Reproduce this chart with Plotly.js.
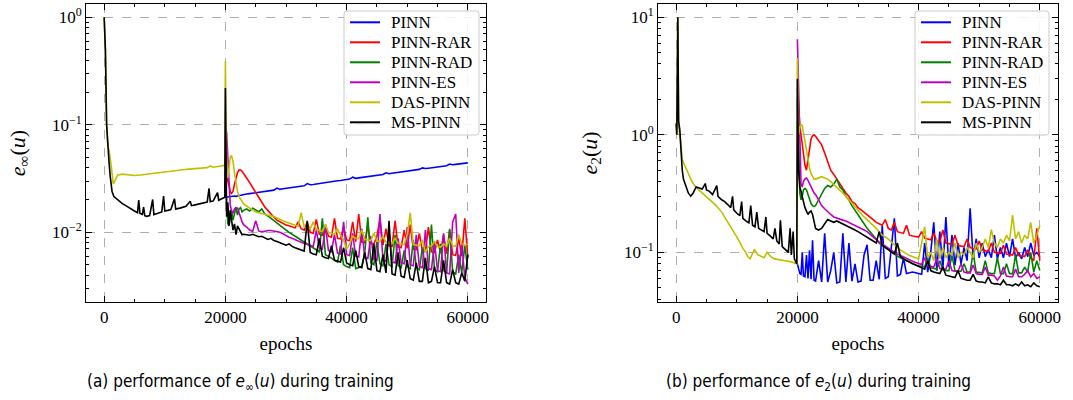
<!DOCTYPE html>
<html>
<head>
<meta charset="utf-8">
<script src="https://cdn.plot.ly/plotly-3.0.1.min.js"></script>
<style>html,body{margin:0;padding:0;background:#fff;}#chart{width:1073px;height:400px;}</style>
</head>
<body>
<div id="chart"></div>
<script>
// ---------------- data ----------------
const seriesNames = ["PINN", "PINN-RAR", "PINN-RAD", "PINN-ES", "DAS-PINN", "MS-PINN"];
const xTickVals = [0, 20000, 40000, 60000];
const yTickValsA = [1, 0.1, 0.01];
const yTickTextA = ["10<sup>0</sup>", "10<sup>−1</sup>", "10<sup>−2</sup>"];
const yTickValsB = [10, 1, 0.1];
const yTickTextB = ["10<sup>1</sup>", "10<sup>0</sup>", "10<sup>−1</sup>"];

// epochs after the re-sampling at 20000
const xPost = [20000,20200,20400,20600,20800,21000,21250,21500,21750,22000,22250,22500,22750,23000,
  23500,24000,24500,25000,25500,26000,26500,27000,27500,28000,
  28500,29000,29500,30000,30500,31000,31500,32000,32500,33000,
  33500,34000,34500,35000,35500,36000,36500,37000,37500,38000,
  38500,39000,39500,40000,40500,41000,41500,42000,42500,43000,
  43500,44000,44500,45000,45500,46000,46500,47000,47500,48000,
  48500,49000,49500,50000,50500,51000,51500,52000,52500,53000,
  53500,54000,54500,55000,55500,56000,56500,57000,57500,58000,
  58500,59000,59500,60000];

// ---- (a) e_inf(u) ----
const xPreA_MS = [0,200,400,600,800,1000,1300,1600,2000,2500,3000,3500,4000,4500,5000,5500,5700,5900,6300,6500,6700,7000,7500,8000,8200,8500,9000,9500,9800,10000,10500,11000,11600,11800,12500,13000,13500,14200,14400,15000,15500,16000,16500,17000,17300,17500,18000,18700,18900,19500,19900];
const yPreA_MS = [1.0,0.5,0.1,0.06,0.045,0.033,0.024,0.0215,0.0205,0.0195,0.0185,0.0178,0.017,0.0163,0.0158,0.0152,0.0200,0.015,0.0147,0.0172,0.0143,0.0141,0.0143,0.0202,0.0146,0.0148,0.0152,0.0155,0.0217,0.0158,0.016,0.0163,0.0205,0.0165,0.0168,0.0172,0.0175,0.0195,0.0177,0.018,0.0183,0.0186,0.0189,0.0191,0.0256,0.0193,0.0196,0.0234,0.0199,0.0206,0.0212];
const xPreA_DAS = [0,200,400,600,800,1000,1200,1500,1800,2200,3000,4000,5000,6000,7000,8000,9000,10000,11000,12000,13000,14000,15000,16000,17000,17500,18000,19000,19900];
const yPreA_DAS = [1.0,0.5,0.1,0.065,0.058,0.05,0.04,0.028,0.031,0.034,0.0348,0.0342,0.0338,0.0342,0.0348,0.0352,0.0357,0.0367,0.0368,0.0375,0.0382,0.0387,0.0393,0.0398,0.040,0.0415,0.0403,0.0412,0.042];

const a_PINN = [0.0212,0.0213,0.0213,0.0215,0.0214,0.0216,0.0217,0.0218,0.0216,0.0219,0.0220,0.0221,0.0223,0.0222,
  0.0227,0.0229,0.0231,0.0236,0.0235,0.0238,0.0240,0.0242,0.0244,0.0247,
  0.0258,0.0251,0.0254,0.0256,0.0259,0.0261,0.0264,0.0266,0.0269,0.0271,
  0.0284,0.0277,0.0279,0.0282,0.0285,0.0287,0.0290,0.0296,0.0296,0.0299,
  0.0302,0.0304,0.0307,0.0310,0.0313,0.0326,0.0318,0.0321,0.0324,0.0327,
  0.0330,0.0333,0.0336,0.0339,0.0342,0.0345,0.0358,0.0351,0.0355,0.0358,
  0.0361,0.0364,0.0368,0.0371,0.0374,0.0378,0.0381,0.0385,0.0398,0.0392,
  0.0395,0.0399,0.0403,0.0406,0.0410,0.0414,0.0417,0.0432,0.0425,0.0429,
  0.0433,0.0437,0.0440,0.0443];
const a_RAR = [0.05,0.035,0.030,0.027,0.024,0.023,0.024,0.028,0.033,0.036,0.038,0.038,0.037,0.035,
  0.032,0.029,0.026,0.0235,0.021,0.019,0.0172,0.016,0.0148,0.0138,
  0.013,0.0125,0.012,0.0117,0.0115,0.0112,0.011,0.0125,0.0108,0.0105,
  0.0125,0.010,0.0098,0.0132,0.0096,0.0094,0.0118,0.0092,0.009,0.0135,
  0.0088,0.0087,0.0112,0.0085,0.0084,0.0125,0.0082,0.0148,0.0081,0.008,
  0.0115,0.0079,0.0078,0.0092,0.0132,0.0076,0.0108,0.0075,0.0074,0.0128,
  0.0073,0.0072,0.0105,0.0071,0.0118,0.007,0.0069,0.0098,0.0068,0.0067,
  0.0112,0.0066,0.0065,0.0085,0.0064,0.0095,0.0063,0.0105,0.0062,0.0061,
  0.0088,0.006,0.0135,0.0058];
const a_RAD = [0.03,0.016,0.012,0.0115,0.014,0.016,0.013,0.015,0.017,0.0145,0.0165,0.017,0.0155,0.016,
  0.0165,0.0158,0.0168,0.0162,0.0155,0.0165,0.0148,0.0142,0.0135,0.0128,
  0.0122,0.0115,0.011,0.0105,0.0100,0.0096,0.0092,0.0088,0.0085,0.0082,
  0.0078,0.0075,0.0072,0.0068,0.0066,0.0135,0.0062,0.006,0.0057,0.0055,
  0.0053,0.0075,0.005,0.0048,0.0047,0.0072,0.0046,0.0047,0.0048,0.0065,
  0.0138,0.0052,0.005,0.0082,0.0051,0.0049,0.0078,0.005,0.0048,0.0095,
  0.0049,0.0047,0.0068,0.0048,0.0046,0.0085,0.0047,0.0045,0.0072,0.0046,
  0.0044,0.0118,0.0045,0.0043,0.0078,0.0044,0.0042,0.0108,0.0043,0.0041,
  0.0062,0.0042,0.0075,0.0045];
const a_ES = [0.09,0.085,0.05,0.025,0.018,0.016,0.015,0.0165,0.017,0.0168,0.0155,0.0138,0.0125,0.0118,
  0.0112,0.0105,0.0102,0.0128,0.0103,0.0101,0.0102,0.0104,0.0104,0.0103,
  0.0102,0.0100,0.0097,0.0093,0.009,0.0088,0.0085,0.0083,0.0081,0.0079,
  0.0077,0.0076,0.0074,0.0105,0.0072,0.007,0.0115,0.0068,0.0066,0.0095,
  0.0064,0.0063,0.0125,0.0062,0.0061,0.0098,0.006,0.0059,0.0108,0.0058,
  0.0057,0.0092,0.0056,0.0055,0.0148,0.0055,0.0054,0.0102,0.0053,0.0052,
  0.0088,0.0052,0.0051,0.0112,0.005,0.0049,0.0095,0.0048,0.0047,0.0105,
  0.0046,0.0045,0.0082,0.0044,0.0043,0.0098,0.0042,0.0041,0.0125,0.0148,
  0.0042,0.0078,0.0038,0.0033];
const a_DAS = [0.39,0.04,0.032,0.042,0.05,0.052,0.046,0.036,0.028,0.024,0.0215,0.0205,0.0195,0.0185,
  0.0175,0.0168,0.016,0.0155,0.0152,0.015,0.0148,0.0146,0.0143,0.014,
  0.0136,0.0133,0.0128,0.0125,0.0122,0.0118,0.0116,0.0114,0.0152,0.0112,
  0.011,0.0108,0.0125,0.0106,0.0104,0.0102,0.0118,0.01,0.0098,0.0096,
  0.0108,0.0094,0.0085,0.007,0.0078,0.0092,0.0088,0.0087,0.0105,0.0086,
  0.0085,0.0084,0.0098,0.0083,0.0082,0.0092,0.0081,0.008,0.0079,0.0088,
  0.0079,0.0078,0.0077,0.0095,0.0152,0.0077,0.0076,0.0075,0.0085,0.0065,
  0.0074,0.0075,0.0082,0.0074,0.0073,0.0078,0.0074,0.0088,0.0075,0.0074,
  0.0095,0.0078,0.0076,0.0078];
const a_MS = [0.22,0.014,0.019,0.0115,0.016,0.013,0.0105,0.012,0.0095,0.0115,0.0108,0.0098,0.0095,0.0096,
  0.0095,0.0094,0.0096,0.0093,0.0091,0.0092,0.0089,0.0086,0.0088,0.0084,
  0.0082,0.008,0.0079,0.0076,0.0078,0.0074,0.0072,0.007,0.0069,0.0067,
  0.0128,0.0065,0.0063,0.0062,0.0088,0.006,0.0058,0.0057,0.0075,0.0055,
  0.0054,0.0053,0.0072,0.0052,0.005,0.0049,0.0068,0.0048,0.0047,0.0065,
  0.0046,0.0045,0.0078,0.0044,0.0043,0.0062,0.0042,0.0128,0.0041,0.004,
  0.0065,0.0039,0.0038,0.0055,0.0037,0.0036,0.0052,0.0035,0.0035,0.0058,
  0.0034,0.0035,0.0048,0.0034,0.0034,0.0055,0.0034,0.0033,0.0045,0.0034,
  0.0033,0.0042,0.0035,0.0062];

// ---- (b) e_2(u) ----
const xPreB_MS = [0,100,270,400,600,800,1000,1200,1600,2000,2400,2800,3300,3800,4300,4800,5000,5500,6000,6700,6900,7500,8000,8500,9000,9300,9500,10000,10500,10800,11000,11500,12000,12300,12600,13000,13300,13600,14000,14500,14800,15000,15500,16000,16300,16600,17000,17200,17500,18000,18500,18800,19000,19300,19500,19900];
const yPreB_MS = [1.25,1.0,10,1.3,1.1,0.7,0.5,0.42,0.36,0.32,0.30,0.32,0.36,0.35,0.345,0.385,0.34,0.33,0.31,0.37,0.30,0.28,0.27,0.255,0.24,0.30,0.23,0.215,0.205,0.27,0.195,0.185,0.178,0.25,0.17,0.165,0.22,0.16,0.155,0.15,0.20,0.145,0.138,0.13,0.16,0.125,0.118,0.187,0.112,0.105,0.10,0.16,0.095,0.15,0.088,0.08];
const xPreB_DAS = [0,100,270,400,700,1000,1400,2000,2600,3200,4000,4900,5800,6600,7500,8300,9100,9900,10500,11000,11500,11800,12200,12900,13500,14000,14500,15000,15600,16200,17000,18000,19000,19900];
const yPreB_DAS = [1.25,1.0,10,1.2,0.9,0.62,0.55,0.47,0.40,0.36,0.33,0.30,0.27,0.25,0.22,0.19,0.16,0.138,0.122,0.108,0.10,0.092,0.088,0.106,0.095,0.092,0.09,0.10,0.092,0.088,0.087,0.085,0.083,0.08];

const b_PINN = [0.08,0.07,0.066,0.065,0.10,0.063,0.062,0.095,0.06,0.104,0.059,0.127,0.058,0.057,
  0.085,0.056,0.145,0.056,0.07,0.10,0.055,0.056,0.145,0.056,
  0.12,0.057,0.08,0.056,0.057,0.095,0.116,0.058,0.058,0.085,
  0.059,0.17,0.06,0.062,0.11,0.195,0.063,0.065,0.09,0.066,
  0.067,0.068,0.067,0.066,0.065,0.12,0.068,0.10,0.18,0.07,
  0.15,0.072,0.20,0.075,0.14,0.078,0.12,0.08,0.11,0.085,
  0.237,0.088,0.13,0.09,0.12,0.092,0.105,0.09,0.14,0.088,
  0.11,0.09,0.12,0.092,0.13,0.09,0.10,0.088,0.11,0.092,
  0.12,0.095,0.10,0.092];
const b_RAR = [2.5,1.5,1.2,1.0,0.85,0.7,0.55,0.5,0.62,0.8,0.92,0.98,1.0,0.97,
  0.9,0.82,0.7,0.58,0.5,0.46,0.42,0.38,0.35,0.32,
  0.3,0.27,0.26,0.24,0.23,0.22,0.21,0.2,0.19,0.18,
  0.175,0.17,0.19,0.16,0.155,0.18,0.15,0.148,0.145,0.17,
  0.14,0.138,0.137,0.135,0.15,0.132,0.13,0.128,0.145,0.125,
  0.123,0.155,0.12,0.118,0.117,0.14,0.115,0.113,0.112,0.13,
  0.11,0.108,0.107,0.125,0.105,0.103,0.102,0.12,0.10,0.099,
  0.098,0.115,0.097,0.096,0.095,0.11,0.094,0.093,0.092,0.105,
  0.09,0.085,0.16,0.085];
const b_RAD = [2.0,0.6,0.32,0.28,0.30,0.34,0.35,0.34,0.31,0.28,0.26,0.25,0.245,0.25,
  0.28,0.32,0.35,0.37,0.36,0.38,0.42,0.36,0.34,0.30,
  0.28,0.25,0.23,0.21,0.19,0.175,0.16,0.15,0.14,0.13,
  0.12,0.115,0.11,0.105,0.10,0.097,0.093,0.09,0.087,0.085,
  0.083,0.08,0.078,0.077,0.076,0.075,0.09,0.074,0.073,0.072,
  0.085,0.071,0.07,0.07,0.095,0.07,0.069,0.069,0.08,0.068,
  0.068,0.10,0.068,0.067,0.067,0.085,0.067,0.066,0.066,0.09,
  0.066,0.066,0.08,0.066,0.066,0.095,0.067,0.067,0.075,0.068,
  0.10,0.068,0.085,0.07];
const b_ES = [6.5,2.4,0.6,0.38,0.36,0.40,0.42,0.43,0.41,0.38,0.36,0.34,0.32,0.31,
  0.28,0.25,0.235,0.22,0.21,0.20,0.195,0.19,0.188,0.185,
  0.18,0.175,0.17,0.165,0.16,0.155,0.15,0.142,0.135,0.128,
  0.122,0.118,0.113,0.108,0.104,0.10,0.097,0.094,0.091,0.088,
  0.086,0.084,0.082,0.08,0.079,0.09,0.077,0.076,0.075,0.088,
  0.073,0.072,0.072,0.085,0.07,0.069,0.069,0.08,0.068,0.067,
  0.067,0.078,0.066,0.065,0.065,0.075,0.064,0.064,0.063,0.058,
  0.063,0.075,0.063,0.062,0.062,0.072,0.062,0.062,0.065,0.07,
  0.062,0.066,0.06,0.062];
const b_DAS = [4.5,1.0,1.15,1.22,1.2,1.05,0.85,0.7,0.6,0.52,0.47,0.44,0.42,0.42,
  0.43,0.44,0.43,0.42,0.40,0.38,0.36,0.34,0.32,0.30,
  0.28,0.26,0.245,0.23,0.215,0.20,0.19,0.18,0.17,0.16,
  0.15,0.14,0.135,0.13,0.122,0.115,0.11,0.105,0.10,0.097,
  0.094,0.092,0.09,0.088,0.12,0.165,0.09,0.10,0.085,0.13,
  0.088,0.11,0.09,0.10,0.095,0.12,0.09,0.10,0.095,0.11,
  0.10,0.09,0.12,0.10,0.11,0.13,0.11,0.156,0.12,0.11,
  0.13,0.12,0.14,0.125,0.207,0.13,0.15,0.12,0.14,0.13,
  0.18,0.12,0.14,0.17];
const b_MS = [3.0,0.5,0.36,0.33,0.29,0.27,0.24,0.22,0.21,0.22,0.225,0.21,0.18,0.16,
  0.155,0.16,0.175,0.19,0.185,0.18,0.185,0.18,0.175,0.17,
  0.165,0.16,0.155,0.15,0.145,0.14,0.135,0.13,0.125,0.12,
  0.15,0.115,0.11,0.105,0.10,0.097,0.12,0.092,0.088,0.085,
  0.082,0.08,0.078,0.076,0.074,0.072,0.085,0.07,0.068,0.067,
  0.066,0.075,0.064,0.063,0.062,0.061,0.07,0.06,0.059,0.058,
  0.058,0.065,0.057,0.056,0.056,0.055,0.062,0.055,0.054,0.054,
  0.053,0.058,0.053,0.053,0.052,0.054,0.052,0.056,0.052,0.053,
  0.051,0.055,0.052,0.051];

// ---------------- drawing ----------------
const W = 1073, H = 400;
const colors = ["#0000ff", "#ff0000", "#008000", "#bf00bf", "#bfbf00", "#000000"];
const serif = "Liberation Serif, DejaVu Serif, serif";
const postA = [a_PINN, a_RAR, a_RAD, a_ES, a_DAS, a_MS];
const postB = [b_PINN, b_RAR, b_RAD, b_ES, b_DAS, b_MS];

const traces = [];
function addPanel(post, preDASx, preDASy, preMSx, preMSy, xa, ya) {
  for (let i = 0; i < 6; i++) {
    let x = xPost, y = post[i];
    if (i === 4) { x = preDASx.concat(xPost); y = preDASy.concat(post[i]); }
    if (i === 5) { x = preMSx.concat(xPost); y = preMSy.concat(post[i]); }
    traces.push({
      type: "scatter", mode: "lines", x: x, y: y, name: seriesNames[i],
      xaxis: xa, yaxis: ya, showlegend: false,
      line: {color: colors[i], width: 1.6}, hoverinfo: "skip"
    });
  }
}
addPanel(postA, xPreA_DAS, yPreA_DAS, xPreA_MS, yPreA_MS, "x", "y");
addPanel(postB, xPreB_DAS, yPreB_DAS, xPreB_MS, yPreB_MS, "x2", "y2");

const logMinorA = [0.002,0.003,0.004,0.005,0.006,0.007,0.008,0.009,0.02,0.03,0.04,0.05,0.06,0.07,0.08,0.09,0.2,0.3,0.4,0.5,0.6,0.7,0.8,0.9,2];
const logMinorB = [0.04,0.05,0.06,0.07,0.08,0.09,0.2,0.3,0.4,0.5,0.6,0.7,0.8,0.9,2,3,4,5,6,7,8,9,20];

function xAxis(domain) {
  return {
    domain: domain, range: [-3000, 63000], tickvals: xTickVals, ticktext: xTickVals.map(String),
    ticks: "inside", ticklen: 6, tickwidth: 1, tickcolor: "#000",
    showline: true, linecolor: "#000", linewidth: 1, mirror: "allticks",
    showgrid: true, gridcolor: "#9a9a9a", griddash: "dash", gridwidth: 0.8,
    zeroline: false, automargin: false,
    tickfont: {family: serif, size: 17, color: "#000"},
    minor: {ticks: "inside", ticklen: 3, tickwidth: 1, tickcolor: "#000", dtick: 5000, tick0: 0, showgrid: false},
    title: {text: "epochs", font: {family: serif, size: 19, color: "#000"}, standoff: 10}
  };
}
function yAxis(range, vals, text, minorVals, title, anchor) {
  return {
    type: "log", domain: [0.245, 0.99], range: range, anchor: anchor,
    tickvals: vals, ticktext: text,
    ticks: "inside", ticklen: 6, tickwidth: 1, tickcolor: "#000",
    showline: true, linecolor: "#000", linewidth: 1, mirror: "allticks",
    showgrid: true, gridcolor: "#9a9a9a", griddash: "dash", gridwidth: 0.8,
    zeroline: false, automargin: false,
    tickfont: {family: serif, size: 17, color: "#000"},
    minor: {ticks: "inside", ticklen: 3, tickwidth: 1, tickcolor: "#000", tickmode: "array", tickvals: minorVals, showgrid: false},
    title: {text: title, font: {family: serif, size: 22, color: "#000"}, standoff: 20}
  };
}

// legend drawn with shapes + annotations (matplotlib-like compact box)
const shapes = [], annotations = [];
function px(x) { return x / W; }
function py(y) { return 1 - y / H; }
function roundedBox(x0, y0, x1, y1, r) {
  return "M" + px(x0 + r) + "," + py(y0) + " L" + px(x1 - r) + "," + py(y0) +
    " Q" + px(x1) + "," + py(y0) + " " + px(x1) + "," + py(y0 + r) +
    " L" + px(x1) + "," + py(y1 - r) + " Q" + px(x1) + "," + py(y1) + " " + px(x1 - r) + "," + py(y1) +
    " L" + px(x0 + r) + "," + py(y1) + " Q" + px(x0) + "," + py(y1) + " " + px(x0) + "," + py(y1 - r) +
    " L" + px(x0) + "," + py(y0 + r) + " Q" + px(x0) + "," + py(y0) + " " + px(x0 + r) + "," + py(y0) + " Z";
}
function addLegend(boxL, boxR, lineL, lineR, textL) {
  shapes.push({type: "path", xref: "paper", yref: "paper", layer: "above", path: roundedBox(boxL, 11, boxR, 135, 3),
    fillcolor: "rgba(255,255,255,0.85)", line: {color: "#cccccc", width: 1}});
  for (let i = 0; i < 6; i++) {
    const yy = 22.3 + 20 * i;
    shapes.push({type: "line", xref: "paper", yref: "paper", layer: "above",
      x0: px(lineL), x1: px(lineR), y0: py(yy), y1: py(yy), line: {color: colors[i], width: 2}});
    annotations.push({xref: "paper", yref: "paper", x: px(textL), y: py(yy), xanchor: "left", yanchor: "middle",
      showarrow: false, text: seriesNames[i], font: {family: serif, size: 17, color: "#000"}});
  }
}
addLegend(344, 479, 350, 380, 389);
addLegend(915, 1049, 921, 951, 960);

annotations.push(
  {xref: "paper", yref: "paper", x: px(240), y: py(382), xanchor: "center", yanchor: "middle", showarrow: false,
   text: "(a) performance of <i>e</i><sub>∞</sub>(<i>u</i>) during training",
   font: {family: "DejaVu Sans Condensed, DejaVu Sans, sans-serif", size: 17, color: "#000"}},
  {xref: "paper", yref: "paper", x: px(818), y: py(382), xanchor: "center", yanchor: "middle", showarrow: false,
   text: "(b) performance of <i>e</i><sub>2</sub>(<i>u</i>) during training",
   font: {family: "DejaVu Sans Condensed, DejaVu Sans, sans-serif", size: 17, color: "#000"}}
);

const layout = {
  width: W, height: H,
  margin: {l: 0, r: 0, t: 0, b: 0},
  paper_bgcolor: "#fff", plot_bgcolor: "#fff",
  font: {family: serif, color: "#000"},
  showlegend: false,
  xaxis: Object.assign(xAxis([86/W, 486/W]), {anchor: "y"}),
  yaxis: yAxis([-2.648, 0.124], yTickValsA, yTickTextA, logMinorA, "<i>e</i><sub>∞</sub>(<i>u</i>)", "x"),
  xaxis2: Object.assign(xAxis([658/W, 1058/W]), {anchor: "y2"}),
  yaxis2: yAxis([-1.422, 1.112], yTickValsB, yTickTextB, logMinorB, "<i>e</i><sub>2</sub>(<i>u</i>)", "x2"),
  shapes: shapes,
  annotations: annotations
};

Plotly.newPlot("chart", traces, layout, {staticPlot: true, displayModeBar: false});
</script>
</body>
</html>
